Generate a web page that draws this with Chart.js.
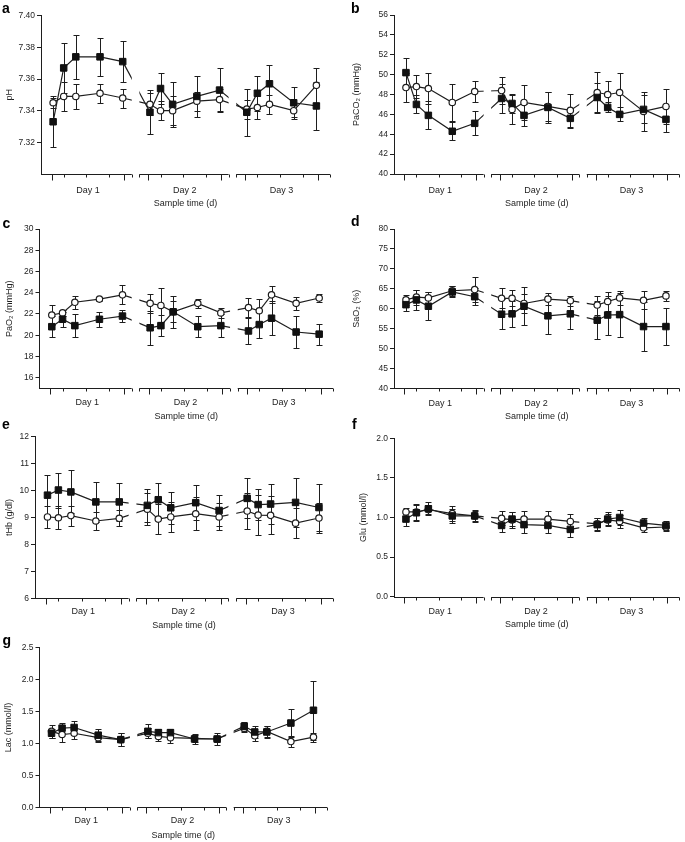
<!DOCTYPE html>
<html><head><meta charset="utf-8">
<script src="https://cdn.jsdelivr.net/npm/chart.js@4.4.0/dist/chart.umd.min.js"></script>
<style>
html,body{margin:0;padding:0;background:#fff;}
body{width:685px;height:842px;position:relative;overflow:hidden;}
canvas{position:absolute;}
</style></head><body>
<script>
// ---------- data ----------
const dayLabels = ['Day 1', 'Day 2', 'Day 3'];
const sampleHours = [0.5, 4, 8, 16, 23.5];   // sampling times within a day (h)

const phFilled   = [7.333,7.367,7.374,7.374,7.371, 7.339,7.354,7.344,7.349,7.353, 7.339,7.351,7.357,7.345,7.343];
const phFilledSD = [0.016,0.016,0.014,0.012,0.013, 0.014,0.010,0.014,0.013,0.014, 0.015,0.011,0.012,0.010,0.015];
const phOpen     = [7.345,7.349,7.349,7.351,7.348, 7.344,7.340,7.340,7.346,7.347, 7.341,7.342,7.344,7.340,7.356];
const phOpenSD   = [0.003,0.009,0.008,0.006,0.006, 0.007,0.006,0.009,0.006,0.007, 0.006,0.007,0.006,0.004,0.011];
const phTicks    = [7.32,7.34,7.36,7.38,7.40];

const paco2Filled   = [50.2,47.0,45.9,44.3,45.1, 47.6,47.1,45.9,46.7,45.6, 47.7,46.7,46.0,46.5,45.5];
const paco2FilledSD = [1.5,0.9,1.4,0.9,1.2, 1.5,1.0,1.1,1.6,1.0, 1.5,0.5,0.7,1.4,1.3];
const paco2Open     = [48.7,48.8,48.6,47.2,48.3, 48.4,46.5,47.2,46.8,46.4, 48.2,48.0,48.2,46.3,46.8];
const paco2OpenSD   = [1.5,1.2,1.6,1.9,1.1, 1.4,1.5,1.8,1.5,1.7, 2.1,1.4,2.0,2.0,1.8];
const paco2Ticks    = [40,42,44,46,48,50,52,54,56];

const pao2Filled   = [20.8,21.5,20.9,21.5,21.8, 20.7,20.9,22.2,20.8,20.9, 20.4,21.0,21.6,20.3,20.1];
const pao2FilledSD = [1.0,0.7,1.1,0.7,0.6, 1.6,1.0,1.5,1.0,1.1, 1.2,1.3,1.6,1.5,1.0];
const pao2Open     = [21.9,22.1,23.1,23.4,23.8, 23.0,22.8,22.2,23.0,22.1, 22.6,22.3,23.8,23.0,23.5];
const pao2OpenSD   = [0.9,0.3,0.6,0.2,0.9, 0.9,1.6,1.0,0.4,0.5, 0.9,1.1,0.8,0.6,0.4];
const pao2Ticks    = [16,18,20,22,24,26,28,30];

const sao2Filled   = [61.0,62.2,60.6,64.2,63.0, 58.6,58.7,60.6,58.2,58.7, 57.1,58.4,58.5,55.5,55.5];
const sao2FilledSD = [1.6,2.5,3.5,1.4,2.2, 3.8,3.2,4.8,4.6,3.7, 4.8,4.9,5.5,6.1,4.6];
const sao2Open     = [62.2,62.9,62.7,64.5,64.8, 62.6,62.6,61.3,62.4,62.0, 60.9,61.8,62.7,62.1,63.2];
const sao2OpenSD   = [1.3,1.9,1.6,1.2,3.1, 2.5,2.0,2.3,1.6,1.3, 2.4,2.4,1.7,2.3,1.3];
const sao2Ticks    = [40,45,50,55,60,65,70,75,80];

const thbFilled   = [9.83,10.02,9.95,9.58,9.58, 9.45,9.66,9.36,9.55,9.26, 9.71,9.48,9.50,9.56,9.37];
const thbFilledSD = [0.75,0.65,0.8,0.75,0.7, 0.62,0.63,0.6,0.65,0.58, 0.74,0.58,0.73,0.92,0.87];
const thbOpen     = [9.02,8.99,9.07,8.87,8.97, 9.31,8.94,9.02,9.14,9.02, 9.24,9.09,9.08,8.79,8.98];
const thbOpenSD   = [0.4,0.42,0.37,0.35,0.3, 0.6,0.55,0.55,0.62,0.5, 0.68,0.74,0.7,0.56,0.55];
const thbTicks    = [6,7,8,9,10,11,12];

const gluFilled   = [0.98,1.06,1.11,1.02,1.02, 0.90,0.98,0.91,0.90,0.85, 0.91,0.98,1.00,0.93,0.90];
const gluFilledSD = [0.09,0.10,0.08,0.09,0.08, 0.08,0.09,0.10,0.10,0.10, 0.08,0.09,0.09,0.07,0.06];
const gluOpen     = [1.07,1.07,1.10,1.05,1.02, 0.99,0.97,0.98,0.98,0.95, 0.92,0.97,0.95,0.87,0.88];
const gluOpenSD   = [0.05,0.10,0.06,0.09,0.06, 0.09,0.10,0.10,0.10,0.10, 0.08,0.07,0.08,0.05,0.05];
const gluTicks    = [0,0.5,1,1.5,2];

const lacFilled   = [1.16,1.24,1.25,1.13,1.06, 1.19,1.17,1.17,1.07,1.07, 1.27,1.18,1.18,1.32,1.52];
const lacFilledSD = [0.07,0.08,0.10,0.09,0.10, 0.11,0.05,0.06,0.08,0.09, 0.07,0.10,0.10,0.22,0.46];
const lacOpen     = [1.19,1.14,1.16,1.09,1.06, 1.16,1.11,1.09,1.08,1.07, 1.24,1.12,1.19,1.03,1.10];
const lacOpenSD   = [0.10,0.11,0.09,0.07,0.10, 0.08,0.07,0.09,0.05,0.05, 0.06,0.08,0.09,0.09,0.07];
const lacTicks    = [0,0.5,1,1.5,2,2.5];

// ---------- axis layout (hours on a continuous time axis, one block per day) ----------
const DAY_STEP = 32;
const X_MIN = -3.5, X_MAX = 92;
const axisSegments = [[-3.5, 26.5], [29, 58.5], [61, 92]];
const majorTicks = [];
const minorTicks = [];
[0,1,2].forEach(d => {
  majorTicks.push(d*DAY_STEP, d*DAY_STEP + 24);
  minorTicks.push(d*DAY_STEP + 4, d*DAY_STEP + 11.5, d*DAY_STEP + 19);
});
axisSegments.forEach(([a,b], i) => { if (i > 0) minorTicks.push(a); minorTicks.push(b); });
const dayCenters = [12, 12 + DAY_STEP, 12 + 2*DAY_STEP];
const xValues = [];
[0,1,2].forEach(d => sampleHours.forEach(h => xValues.push(d*DAY_STEP + h)));

const FONT = "'Liberation Sans', Arial, Helvetica, sans-serif";
const INK = '#1e1e1e';
const LH = 9 * 1.2;

const panels = [
  {letter:'a', title:'pH', f:phFilled, fsd:phFilledSD, o:phOpen, osd:phOpenSD, ticks:phTicks, min:7.30, max:7.40, dec:2,
   box:[0,0,345,215], area:[41,330,15.7,174], yTitleX:10, dayY:190.7, xTitleY:204, letterPos:[2,13.3]},
  {letter:'b', title:'PaCO\u2082 (mmHg)', f:paco2Filled, fsd:paco2FilledSD, o:paco2Open, osd:paco2OpenSD, ticks:paco2Ticks, min:40, max:56, dec:0,
   box:[345,0,340,215], area:[394,683,15,174], yTitleX:356.7, dayY:190.7, xTitleY:204, letterPos:[351,13.3]},
  {letter:'c', title:'PaO\u2082 (mmHg)', f:pao2Filled, fsd:pao2FilledSD, o:pao2Open, osd:pao2OpenSD, ticks:pao2Ticks, min:15, max:30, dec:0,
   box:[0,210,345,215], area:[39.5,333,229,388.3], yTitleX:9.5, dayY:402.3, xTitleY:416.7, letterPos:[2.5,227.7]},
  {letter:'d', title:'SaO\u2082 (%)', f:sao2Filled, fsd:sao2FilledSD, o:sao2Open, osd:sao2OpenSD, ticks:sao2Ticks, min:40, max:80, dec:0,
   box:[345,210,340,215], area:[394,683,229,388.3], yTitleX:356.7, dayY:403.3, xTitleY:416.7, letterPos:[351,225.7]},
  {letter:'e', title:'tHb (g/dl)', f:thbFilled, fsd:thbFilledSD, o:thbOpen, osd:thbOpenSD, ticks:thbTicks, min:6, max:12, dec:0,
   box:[0,415,345,220], area:[35,333,436.7,598.3], yTitleX:9.5, dayY:611.7, xTitleY:626, letterPos:[2,429]},
  {letter:'f', title:'Glu (mmol/l)', f:gluFilled, fsd:gluFilledSD, o:gluOpen, osd:gluOpenSD, ticks:gluTicks, min:0, max:2, dec:1,
   box:[345,415,340,220], area:[394,683,438.3,596.7], yTitleX:363.5, dayY:611.7, xTitleY:625, letterPos:[352,429]},
  {letter:'g', title:'Lac (mmol/l)', f:lacFilled, fsd:lacFilledSD, o:lacOpen, osd:lacOpenSD, ticks:lacTicks, min:0, max:2.5, dec:1,
   box:[0,625,345,217], area:[39.5,327,647.7,807.3], yTitleX:8.5, dayY:821, xTitleY:836, letterPos:[2.5,645]}
];

// ---------- plugins ----------
const errorBars = {
  id: 'errorBars',
  beforeDatasetsDraw(chart) {
    const {ctx, scales: {x, y}} = chart;
    ctx.save();
    ctx.strokeStyle = INK; ctx.lineWidth = 1;
    chart.data.datasets.forEach(ds => {
      ds.data.forEach((pt, i) => {
        const sd = ds.sd[i];
        const px = Math.round(x.getPixelForValue(pt.x)) + 0.5;
        const yt = Math.round(y.getPixelForValue(pt.y + sd)) + 0.5;
        const yb = Math.round(y.getPixelForValue(pt.y - sd)) + 0.5;
        ctx.beginPath();
        ctx.moveTo(px, yt); ctx.lineTo(px, yb);
        ctx.moveTo(px - 3, yt); ctx.lineTo(px + 3, yt);
        ctx.moveTo(px - 3, yb); ctx.lineTo(px + 3, yb);
        ctx.stroke();
      });
    });
    ctx.restore();
  }
};

const gapClip = {
  id: 'gapClip',
  beforeDatasetsDraw(chart) {
    const {ctx, scales: {x}} = chart;
    ctx.save();
    ctx.beginPath();
    axisSegments.forEach(([a, b]) => {
      const l = x.getPixelForValue(a), r = x.getPixelForValue(b);
      ctx.rect(l, 0, r - l, chart.height);
    });
    ctx.clip();
  },
  afterDatasetsDraw(chart) { chart.ctx.restore(); }
};

const brokenAxis = {
  id: 'brokenAxis',
  afterDraw(chart) {
    const {ctx, scales: {x}, chartArea} = chart;
    const yb = Math.round(chartArea.bottom) + 0.5;
    ctx.save();
    ctx.strokeStyle = INK; ctx.lineWidth = 1;
    ctx.beginPath();
    axisSegments.forEach(([a, b]) => {
      ctx.moveTo(x.getPixelForValue(a), yb);
      ctx.lineTo(x.getPixelForValue(b), yb);
    });
    majorTicks.forEach(v => {
      const px = Math.round(x.getPixelForValue(v)) + 0.5;
      ctx.moveTo(px, yb); ctx.lineTo(px, yb + 6);
    });
    minorTicks.forEach(v => {
      const px = Math.round(x.getPixelForValue(v)) + 0.5;
      ctx.moveTo(px, yb); ctx.lineTo(px, yb + 3);
    });
    ctx.stroke();
    ctx.restore();
  }
};

const letterPlugin = {
  id: 'letterPlugin',
  afterDraw(chart, args, opts) {
    const ctx = chart.ctx;
    ctx.save();
    ctx.fillStyle = '#000';
    ctx.font = 'bold 14px ' + FONT;
    ctx.textBaseline = 'alphabetic';
    ctx.fillText(opts.text, opts.x, opts.y);
    ctx.restore();
  }
};

// ---------- build ----------
function makeChart(p) {
  const [x0, y0, w, h] = p.box;
  const [L, R, T, B] = p.area;
  const cv = document.createElement('canvas');
  cv.width = w; cv.height = h;
  cv.style.left = x0 + 'px'; cv.style.top = y0 + 'px';
  cv.style.width = w + 'px'; cv.style.height = h + 'px';
  document.body.appendChild(cv);

  const xScaleH = p.xTitleY + LH / 2 - B;
  const padBottom = (y0 + h) - (p.xTitleY + LH / 2);

  const mk = (vals) => xValues.map((xv, i) => ({x: xv, y: vals[i]}));

  new Chart(cv, {
    type: 'line',
    data: {
      datasets: [
        {data: mk(p.f), sd: p.fsd, pointStyle: 'rect', pointRadius: 4.6, pointHoverRadius: 4.6,
         backgroundColor: '#111', pointBackgroundColor: '#111', borderColor: INK, pointBorderColor: '#111',
         borderWidth: 1.2, pointBorderWidth: 1, tension: 0, clip: false},
        {data: mk(p.o), sd: p.osd, pointStyle: 'circle', pointRadius: 3.2, pointHoverRadius: 3.2,
         backgroundColor: '#fff', pointBackgroundColor: '#fff', borderColor: INK, pointBorderColor: INK,
         borderWidth: 1.2, pointBorderWidth: 1.2, tension: 0, clip: false}
      ]
    },
    options: {
      responsive: false, animation: false, devicePixelRatio: 1,
      layout: {padding: {left: 0, top: T - y0, right: x0 + w - R, bottom: padBottom}},
      plugins: {legend: {display: false}, tooltip: {enabled: false},
                letterPlugin: {text: p.letter, x: p.letterPos[0] - x0, y: p.letterPos[1] - y0}},
      events: [],
      scales: {
        x: {
          type: 'linear', min: X_MIN, max: X_MAX, bounds: 'data',
          afterBuildTicks: s => { s.ticks = dayCenters.map(v => ({value: v})); },
          afterFit: s => { s.height = xScaleH; },
          grid: {display: false, drawTicks: false, tickLength: 0},
          border: {display: false},
          ticks: {autoSkip: false, maxRotation: 0, minRotation: 0, padding: p.dayY - B - LH / 2,
                  color: INK, font: {size: 9, family: FONT}, callback: (v, i) => dayLabels[i]},
          title: {display: true, text: 'Sample time (d)', padding: 0, color: INK, font: {size: 9, family: FONT}}
        },
        y: {
          type: 'linear', min: p.min, max: p.max, bounds: 'data',
          afterBuildTicks: s => { s.ticks = p.ticks.map(v => ({value: v})); },
          afterFit: s => { s.width = L - x0; },
          grid: {display: true, drawOnChartArea: false, drawTicks: true, tickLength: 4, color: INK},
          border: {display: true, color: INK, width: 1},
          ticks: {padding: 2, color: INK, font: {size: 8.5, family: FONT},
                  callback: v => Number(v).toFixed(p.dec)},
          title: {display: true, text: p.title, padding: {top: p.yTitleX - x0 - LH / 2, bottom: 0},
                  color: INK, font: {size: 9, family: FONT}}
        }
      }
    },
    plugins: [errorBars, gapClip, brokenAxis, letterPlugin]
  });
}

panels.forEach(makeChart);
</script>
</body></html>
